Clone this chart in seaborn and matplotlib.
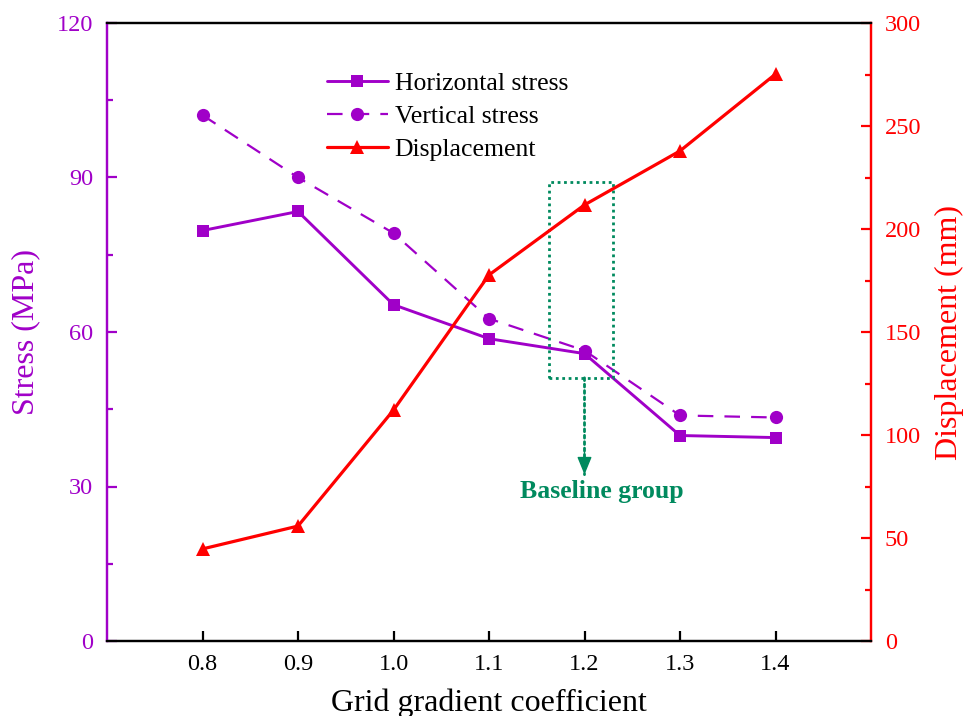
import matplotlib
matplotlib.use("Agg")
import matplotlib.pyplot as plt
from matplotlib.patches import Rectangle
from matplotlib.ticker import MultipleLocator
import seaborn as sns
import pandas as pd

sns.set_style("ticks")
plt.rcParams["font.family"] = ["Liberation Serif", "DejaVu Serif"]
plt.rcParams["mathtext.fontset"] = "stix"
plt.rcParams["text.color"] = "black"
plt.rcParams["axes.labelcolor"] = "black"

# Data
coefficients = [0.8, 0.9, 1.0, 1.1, 1.2, 1.3, 1.4]
horizontal_stress = [79.7, 83.4, 65.3, 58.7, 55.8, 39.9, 39.5]
vertical_stress = [102.1, 90.0, 79.2, 62.6, 56.4, 43.8, 43.4]
displacement = [44.7, 55.8, 112.1, 177.7, 211.7, 237.9, 275.2]
x_ticks = [0.8, 0.9, 1.0, 1.1, 1.2, 1.3, 1.4]

# Baseline group highlight (stress-axis coordinates)
baseline_x = 1.2
box_x = (1.163, 1.230)
box_y = (51.1, 89.1)
arrow_end = 32.3
label_pos = (1.218, 29.0)

purple = "#A000C8"
red = "#FF0000"
green = "#008A5E"

df = pd.DataFrame({
    "coef": coefficients,
    "horizontal": horizontal_stress,
    "vertical": vertical_stress,
    "disp": displacement,
})

fig = plt.figure(figsize=(9.65, 7.16), dpi=100)
ax = fig.add_axes([107 / 965, 1 - 641 / 716, (871 - 107) / 965, (641 - 23) / 716])
ax2 = ax.twinx()

sns.lineplot(data=df, x="coef", y="horizontal", ax=ax, color=purple, lw=2.1,
             marker="s", markersize=8.5, markeredgewidth=0, label="Horizontal stress",
             legend=False)
sns.lineplot(data=df, x="coef", y="vertical", ax=ax, color=purple, lw=1.6,
             marker="o", markersize=9.5, markeredgewidth=0, label="Vertical stress",
             legend=False)
ax.lines[-1].set_dashes([7, 5])
sns.lineplot(data=df, x="coef", y="disp", ax=ax2, color=red, lw=2.3,
             marker="^", markersize=10.5, markeredgewidth=0, label="Displacement",
             legend=False)

ax.set_xlim(0.7, 1.5)
ax.set_ylim(0, 120)
ax2.set_ylim(0, 300)
ax.set_xticks(x_ticks)
ax.set_xticklabels([f"{v:.1f}" for v in x_ticks])
ax.yaxis.set_major_locator(MultipleLocator(30))
ax.yaxis.set_minor_locator(MultipleLocator(15))
ax2.yaxis.set_major_locator(MultipleLocator(50))
ax2.yaxis.set_minor_locator(MultipleLocator(25))

ax.set_xlabel("Grid gradient coefficient", fontsize=23, labelpad=10, color="black")
ax.set_ylabel("Stress (MPa)", fontsize=23, color=purple, labelpad=12)
ax2.set_ylabel("Displacement (mm)", fontsize=23, color=red, labelpad=10)

for a in (ax, ax2):
    for s in a.spines.values():
        s.set_linewidth(1.6)
        s.set_visible(True)
    a.spines["top"].set_color("black")
    a.spines["bottom"].set_color("black")
    a.spines["left"].set_color(purple)
    a.spines["right"].set_color(red)

ax.tick_params(axis="x", direction="in", length=7, width=1.6, labelsize=17.5,
               colors="black", pad=9)
ax.tick_params(axis="y", which="major", direction="in", length=7, width=1.6,
               labelsize=17.5, colors=purple, pad=10)
ax.tick_params(axis="y", which="minor", direction="in", length=4, width=1.6,
               colors=purple)
ax2.tick_params(axis="y", which="major", direction="in", length=7, width=1.6,
                labelsize=17.5, colors=red, pad=10)
ax2.tick_params(axis="y", which="minor", direction="in", length=4, width=1.6,
                colors=red)

# Highlight box, arrow and label for the baseline group
ax.add_patch(Rectangle((box_x[0], box_y[0]), box_x[1] - box_x[0], box_y[1] - box_y[0],
                       fill=False, edgecolor=green, lw=2.0, linestyle=(0, (1, 1.3)),
                       zorder=5))
ax.annotate("", xy=(baseline_x, arrow_end), xytext=(baseline_x, box_y[0]),
            arrowprops=dict(arrowstyle="-", color=green, lw=2.0,
                            linestyle=(0, (1, 1.3)), shrinkA=0, shrinkB=0),
            zorder=5)
ax.annotate("", xy=(baseline_x, arrow_end), xytext=(baseline_x, arrow_end + 4.5),
            arrowprops=dict(arrowstyle="-|>,head_length=1.1,head_width=0.45",
                            color=green, lw=1.0, shrinkA=0, shrinkB=0),
            zorder=6)
ax.text(label_pos[0], label_pos[1], "Baseline group", color=green, fontsize=18.5,
        fontweight="bold", ha="center", va="center")

handles = ax.get_lines()[:2] + ax2.get_lines()[:1]
labels = ["Horizontal stress", "Vertical stress", "Displacement"]
leg = ax2.legend(handles, labels, loc="upper left", bbox_to_anchor=(0.274, 0.938),
                 frameon=False, fontsize=18.5, handlelength=2.4, handletextpad=0.25,
                 labelspacing=0.4, borderaxespad=0)
for t in leg.get_texts():
    t.set_color("black")

fig.savefig("out.png", dpi=100)
